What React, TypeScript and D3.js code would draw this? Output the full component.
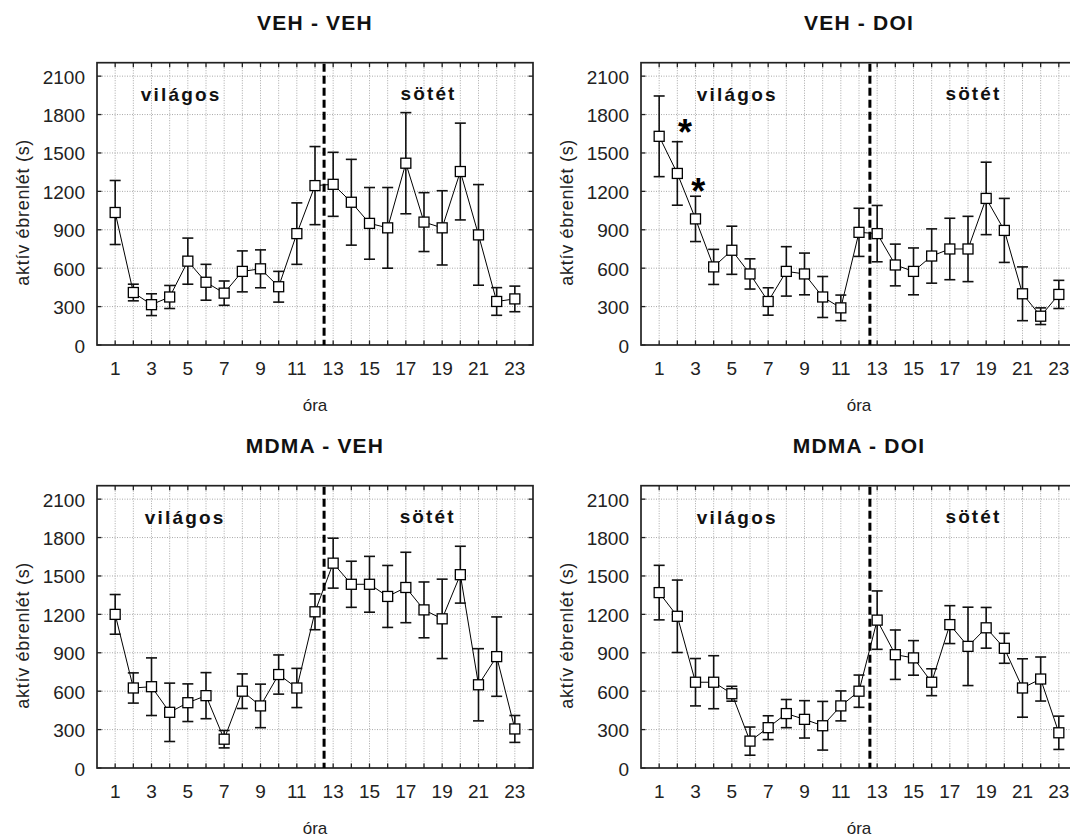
import React from "react";
import * as d3 from "d3";

// ---------- data ----------
const hours = [1, 2, 3, 4, 5, 6, 7, 8, 9, 10, 11, 12, 13, 14, 15, 16, 17, 18, 19, 20, 21, 22, 23];
const xLabelHours = [1, 3, 5, 7, 9, 11, 13, 15, 17, 19, 21, 23];
const yTickValues = [0, 300, 600, 900, 1200, 1500, 1800, 2100];
const panelTitles = ["VEH - VEH", "VEH - DOI", "MDMA - VEH", "MDMA - DOI"];
const lightLabel = "világos";
const darkLabel = "sötét";
const xAxisTitle = "óra";
const yAxisTitle = "aktív ébrenlét (s)";

const vehVehMean = [1035, 410, 315, 375, 655, 490, 405, 575, 595, 455, 870, 1245, 1255, 1115, 950, 915, 1420, 960, 915, 1355, 860, 340, 360];
const vehVehErr = [250, 65, 85, 90, 180, 140, 95, 160, 148, 120, 240, 305, 250, 335, 280, 315, 395, 230, 290, 378, 393, 108, 100];

const vehDoiMean = [1630, 1340, 985, 610, 740, 555, 340, 575, 555, 375, 290, 880, 870, 625, 575, 695, 750, 750, 1145, 895, 400, 225, 395];
const vehDoiErr = [315, 248, 177, 137, 188, 118, 107, 193, 163, 160, 100, 188, 220, 163, 183, 212, 240, 255, 283, 250, 210, 65, 110];

const mdmaVehMean = [1200, 625, 635, 435, 510, 565, 225, 600, 485, 730, 625, 1220, 1600, 1435, 1435, 1340, 1410, 1235, 1165, 1510, 650, 870, 305];
const mdmaVehErr = [155, 118, 225, 228, 147, 180, 68, 135, 170, 153, 153, 140, 195, 180, 218, 242, 275, 218, 310, 222, 282, 310, 105];

const mdmaDoiMean = [1370, 1185, 670, 670, 580, 210, 315, 425, 380, 330, 485, 600, 1155, 885, 860, 670, 1120, 950, 1095, 935, 625, 695, 275];
const mdmaDoiErr = [213, 283, 185, 207, 58, 110, 93, 110, 146, 190, 117, 126, 228, 193, 135, 105, 148, 306, 159, 117, 228, 172, 130];

// significance marks (VEH - DOI panel): hour position, value
const starHours = [2.42, 3.15];
const starValues = [1717, 1257];

// ---------- layout ----------
const W = 1070;
const H = 839;
const PLOT_W = 436;
const PLOT_H = 282.3;
const FONT = "'Liberation Sans', Arial, Helvetica, sans-serif";

const panels = [
  { title: panelTitles[0], left: 97, top: 62.7, mean: vehVehMean, err: vehVehErr, boundary: 12.5, lightAt: 4.63, darkAt: 18.25, stars: false },
  { title: panelTitles[1], left: 641, top: 62.7, mean: vehDoiMean, err: vehDoiErr, boundary: 12.6, lightAt: 5.3, darkAt: 18.3, stars: true },
  { title: panelTitles[2], left: 97, top: 485.7, mean: mdmaVehMean, err: mdmaVehErr, boundary: 12.5, lightAt: 4.85, darkAt: 18.2, stars: false },
  { title: panelTitles[3], left: 641, top: 485.7, mean: mdmaDoiMean, err: mdmaDoiErr, boundary: 12.6, lightAt: 5.3, darkAt: 18.3, stars: false },
];

function Panel(p: any) {
  const x = d3.scaleLinear().domain([0, 24]).range([p.left, p.left + PLOT_W]);
  const y = d3.scaleLinear().domain([0, 2205]).range([p.top + PLOT_H, p.top]);
  const bottom = p.top + PLOT_H;
  const right = p.left + PLOT_W;
  const pts = hours.map((h, i) => ({ h, m: p.mean[i], e: p.err[i] }));
  const line = d3
    .line<any>()
    .x((d) => x(d.h))
    .y((d) => y(d.m));
  const tickLen = 4.5;
  const cap = 5.5;
  const ms = 10;
  return (
    <g>
      {/* grid */}
      {hours.map((h) => (
        <line key={"gv" + h} x1={x(h)} x2={x(h)} y1={p.top} y2={bottom} stroke="#a8a8a8" strokeWidth={1} strokeDasharray="1 1.5" />
      ))}
      {yTickValues.filter((v) => v > 0).map((v) => (
        <line key={"gh" + v} x1={p.left} x2={right} y1={y(v)} y2={y(v)} stroke="#a8a8a8" strokeWidth={1} strokeDasharray="1 1.5" />
      ))}
      {/* frame ticks */}
      {hours.map((h) => (
        <g key={"tx" + h}>
          <line x1={x(h)} x2={x(h)} y1={bottom} y2={bottom - tickLen} stroke="#222" strokeWidth={1.3} />
          <line x1={x(h)} x2={x(h)} y1={p.top} y2={p.top + tickLen} stroke="#222" strokeWidth={1.3} />
        </g>
      ))}
      {yTickValues.map((v) => (
        <g key={"ty" + v}>
          <line x1={p.left} x2={p.left + tickLen} y1={y(v)} y2={y(v)} stroke="#222" strokeWidth={1.3} />
          <line x1={right} x2={right - tickLen} y1={y(v)} y2={y(v)} stroke="#222" strokeWidth={1.3} />
        </g>
      ))}
      <rect x={p.left} y={p.top} width={PLOT_W} height={PLOT_H} fill="none" stroke="#222" strokeWidth={1.7} />
      {/* tick labels */}
      {yTickValues.map((v) => (
        <text key={"yl" + v} x={p.left - 12} y={y(v) + 1} textAnchor="end" dominantBaseline="central" fontSize={19} fill="#222">
          {v}
        </text>
      ))}
      {xLabelHours.map((h) => (
        <text key={"xl" + h} x={x(h)} y={bottom + 30} textAnchor="middle" fontSize={19} fill="#222">
          {h}
        </text>
      ))}
      {/* titles */}
      <text x={x(12)} y={p.top - 33} textAnchor="middle" fontSize={21} fontWeight="bold" letterSpacing={1.2} fill="#111">
        {p.title}
      </text>
      <text x={x(12)} y={bottom + 65.5} textAnchor="middle" fontSize={17} fill="#222">
        {xAxisTitle}
      </text>
      <text
        transform={`translate(${p.left - 68.5},${p.top + 149.6}) rotate(-90)`}
        textAnchor="middle"
        fontSize={18}
        letterSpacing={0.7}
        fill="#222"
      >
        {yAxisTitle}
      </text>
      {/* light/dark labels */}
      <text x={x(p.lightAt)} y={p.top + 38.5} textAnchor="middle" fontSize={19} fontWeight="bold" letterSpacing={2.2} fill="#111">
        {lightLabel}
      </text>
      <text x={x(p.darkAt)} y={p.top + 37} textAnchor="middle" fontSize={19} fontWeight="bold" letterSpacing={2.1} fill="#111">
        {darkLabel}
      </text>
      {/* light/dark boundary */}
      <line x1={x(p.boundary)} x2={x(p.boundary)} y1={p.top + 1} y2={bottom} stroke="#000" strokeWidth={3} strokeDasharray="8 4" />
      {/* data line */}
      <path d={line(pts) || ""} fill="none" stroke="#000" strokeWidth={1} />
      {/* error bars */}
      {pts.map((d) => (
        <g key={"eb" + d.h} stroke="#111" strokeWidth={1.6}>
          <line x1={x(d.h)} x2={x(d.h)} y1={y(d.m - d.e)} y2={y(d.m + d.e)} />
          <line x1={x(d.h) - cap} x2={x(d.h) + cap} y1={y(d.m + d.e)} y2={y(d.m + d.e)} />
          <line x1={x(d.h) - cap} x2={x(d.h) + cap} y1={y(d.m - d.e)} y2={y(d.m - d.e)} />
        </g>
      ))}
      {/* markers */}
      {pts.map((d) => (
        <rect key={"mk" + d.h} x={x(d.h) - ms / 2} y={y(d.m) - ms / 2} width={ms} height={ms} fill="#fff" stroke="#000" strokeWidth={1.3} />
      ))}
      {/* stars */}
      {p.stars &&
        starHours.map((h, i) => (
          <text key={"st" + i} x={x(h)} y={y(starValues[i]) + 0.55 * 36} textAnchor="middle" fontSize={36} fontWeight="bold" fill="#000">
            *
          </text>
        ))}
    </g>
  );
}

export default function App() {
  return (
    <svg
      width={W}
      height={H}
      viewBox={`0 0 ${W} ${H}`}
      style={{ position: "absolute", left: 0, top: 0, background: "#fff", fontFamily: FONT }}
    >
      <rect x={0} y={0} width={W} height={H} fill="#fff" />
      {panels.map((p, i) => (
        <Panel key={i} {...p} />
      ))}
    </svg>
  );
}
